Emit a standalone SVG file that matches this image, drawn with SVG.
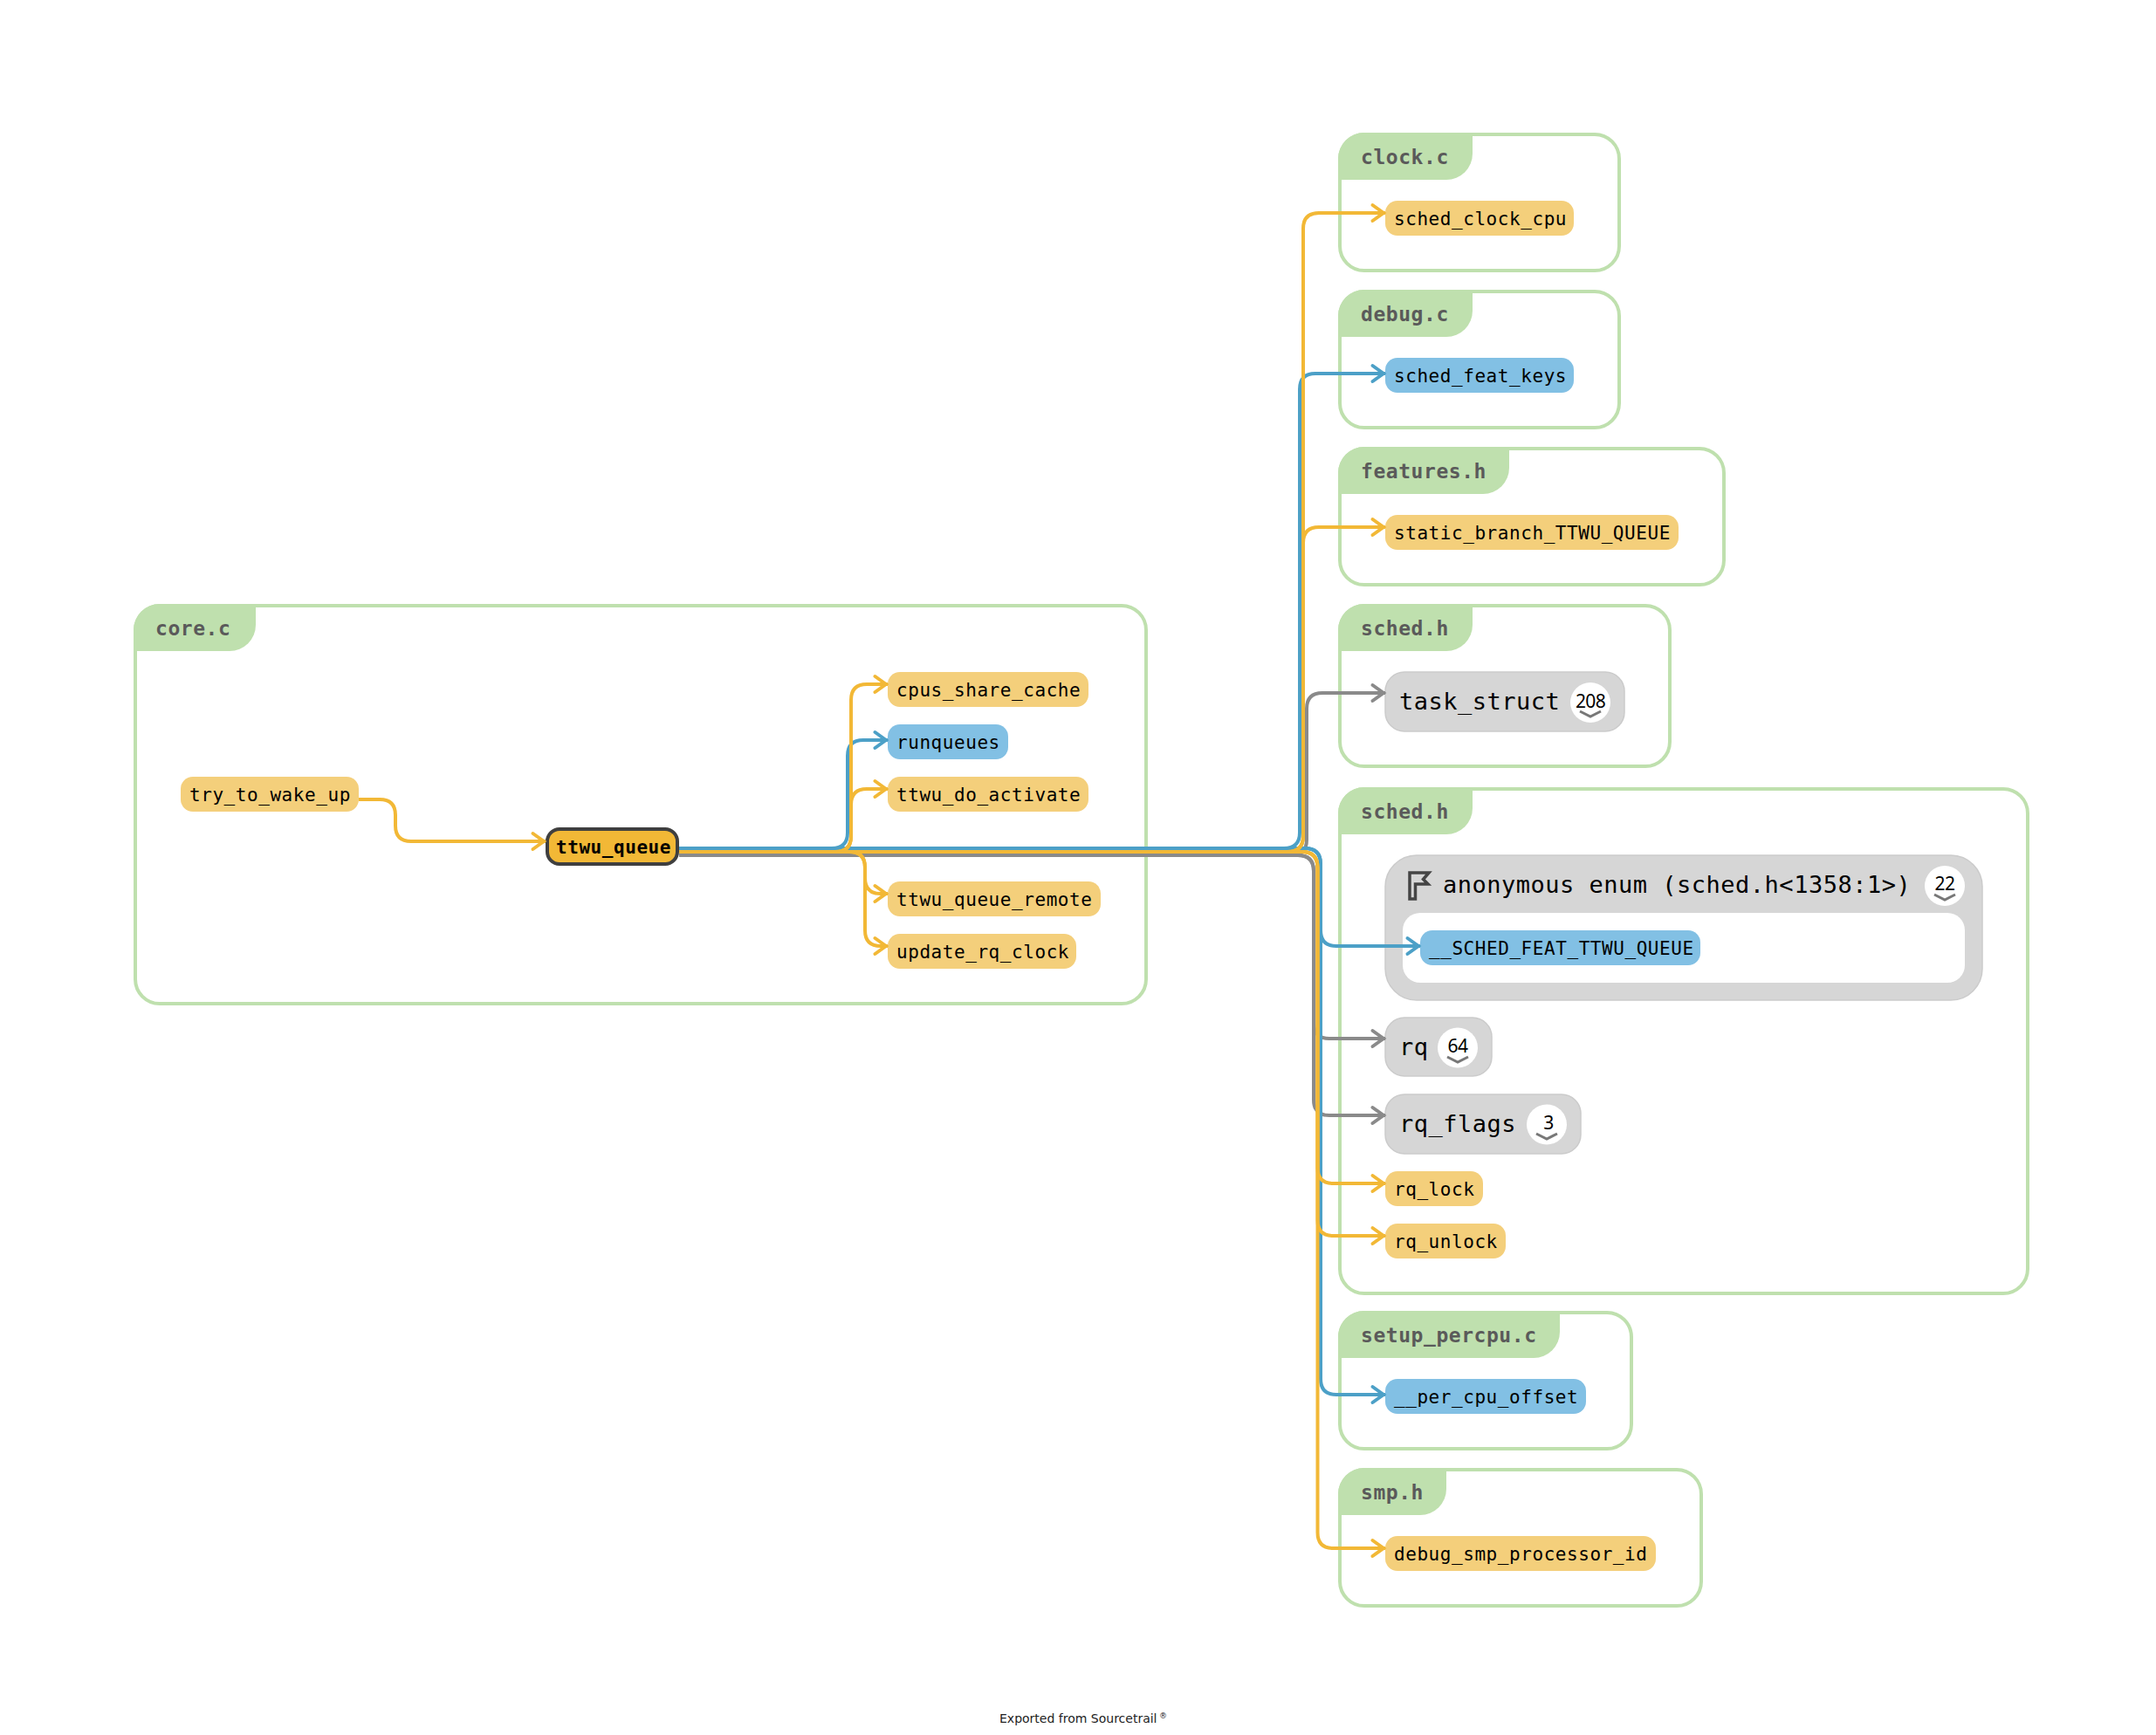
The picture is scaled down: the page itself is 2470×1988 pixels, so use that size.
<svg xmlns="http://www.w3.org/2000/svg" width="2470" height="1988" viewBox="0 0 2470 1988">
<style>
text{font-family:"DejaVu Sans Mono","Liberation Mono",monospace;fill:#000}
.box{fill:#fff;stroke:#bfe0ae;stroke-width:4}
.tab{fill:#bfe0ae}
.title{font-size:23px;font-weight:700;letter-spacing:.55px;fill:#5a5a5a}
.fn{fill:#f4cf7b}
.var{fill:#82c0e4}
.type{fill:#d6d6d6;stroke:#cbcbcb;stroke-width:1.5}
.t{font-size:21px;letter-spacing:.56px}
.big{font-size:27px;letter-spacing:.5px}
.badge{fill:#fff}
.num{font-family:"Noto Sans",sans-serif;font-size:21px;letter-spacing:-.6px;text-anchor:middle}
.chev{fill:none;stroke:#555;stroke-width:3;opacity:.8}
.e{fill:none;stroke-width:4}
.y{stroke:#f2b836}.b{stroke:#4ca0c7}.g{stroke:#8a8a8a}
.foot{font-family:"DejaVu Sans",sans-serif;font-size:14px;fill:#222}
</style>
<defs>
<marker id="ay" markerUnits="userSpaceOnUse" markerWidth="30" markerHeight="30" refX="24" refY="15" orient="auto"><path d="M9.500 6L22 15L9.500 24" fill="none" stroke="#f2b836" stroke-width="4" stroke-linecap="round"/></marker>
<marker id="ab" markerUnits="userSpaceOnUse" markerWidth="30" markerHeight="30" refX="24" refY="15" orient="auto"><path d="M9.500 6L22 15L9.500 24" fill="none" stroke="#4ca0c7" stroke-width="4" stroke-linecap="round"/></marker>
<marker id="ag" markerUnits="userSpaceOnUse" markerWidth="30" markerHeight="30" refX="24" refY="15" orient="auto"><path d="M9.500 6L22 15L9.500 24" fill="none" stroke="#8a8a8a" stroke-width="4" stroke-linecap="round"/></marker>
</defs>
<rect width="2470" height="1988" fill="#fff"/>

<g id="file-core-c">
<rect class="box" x="155" y="694" width="1158" height="456" rx="28"/>
<path class="tab" d="M153 722A30 30 0 0 1 183 692H293V716A30 30 0 0 1 263 746H153Z"/>
<text class="title" x="178" y="728">core.c</text>
</g>
<g id="file-clock-c">
<rect class="box" x="1535" y="154" width="320" height="156" rx="28"/>
<path class="tab" d="M1533 182A30 30 0 0 1 1563 152H1687V176A30 30 0 0 1 1657 206H1533Z"/>
<text class="title" x="1559" y="188">clock.c</text>
</g>
<g id="file-debug-c">
<rect class="box" x="1535" y="334" width="320" height="156" rx="28"/>
<path class="tab" d="M1533 362A30 30 0 0 1 1563 332H1687V356A30 30 0 0 1 1657 386H1533Z"/>
<text class="title" x="1559" y="368">debug.c</text>
</g>
<g id="file-features-h">
<rect class="box" x="1535" y="514" width="440" height="156" rx="28"/>
<path class="tab" d="M1533 542A30 30 0 0 1 1563 512H1729V536A30 30 0 0 1 1699 566H1533Z"/>
<text class="title" x="1559" y="548">features.h</text>
</g>
<g id="file-sched-h-1">
<rect class="box" x="1535" y="694" width="378" height="184" rx="28"/>
<path class="tab" d="M1533 722A30 30 0 0 1 1563 692H1687V716A30 30 0 0 1 1657 746H1533Z"/>
<text class="title" x="1559" y="728">sched.h</text>
</g>
<g id="file-sched-h-2">
<rect class="box" x="1535" y="904" width="788" height="578" rx="28"/>
<path class="tab" d="M1533 932A30 30 0 0 1 1563 902H1687V926A30 30 0 0 1 1657 956H1533Z"/>
<text class="title" x="1559" y="938">sched.h</text>
</g>
<g id="file-setup-percpu-c">
<rect class="box" x="1535" y="1504" width="334" height="156" rx="28"/>
<path class="tab" d="M1533 1532A30 30 0 0 1 1563 1502H1787V1526A30 30 0 0 1 1757 1556H1533Z"/>
<text class="title" x="1559" y="1538">setup_percpu.c</text>
</g>
<g id="file-smp-h">
<rect class="box" x="1535" y="1684" width="414" height="156" rx="28"/>
<path class="tab" d="M1533 1712A30 30 0 0 1 1563 1682H1657V1706A30 30 0 0 1 1627 1736H1533Z"/>
<text class="title" x="1559" y="1718">smp.h</text>
</g>

<g id="node-try_to_wake_up"><rect class="fn" x="207" y="890" width="204" height="40" rx="14"/><text class="t" x="217" y="918">try_to_wake_up</text></g>
<g id="node-ttwu_queue"><rect x="627" y="950" width="149" height="40" rx="14" fill="#f2b836" stroke="#3f3f3f" stroke-width="4"/><text class="t" x="637" y="978" font-weight="700">ttwu_queue</text></g>
<g id="node-cpus_share_cache"><rect class="fn" x="1017" y="770" width="230" height="40" rx="14"/><text class="t" x="1027" y="798">cpus_share_cache</text></g>
<g id="node-runqueues"><rect class="var" x="1017" y="830" width="138" height="40" rx="14"/><text class="t" x="1027" y="858">runqueues</text></g>
<g id="node-ttwu_do_activate"><rect class="fn" x="1017" y="890" width="230" height="40" rx="14"/><text class="t" x="1027" y="918">ttwu_do_activate</text></g>
<g id="node-ttwu_queue_remote"><rect class="fn" x="1017" y="1010" width="244" height="40" rx="14"/><text class="t" x="1027" y="1038">ttwu_queue_remote</text></g>
<g id="node-update_rq_clock"><rect class="fn" x="1017" y="1070" width="216" height="40" rx="14"/><text class="t" x="1027" y="1098">update_rq_clock</text></g>
<g id="node-sched_clock_cpu"><rect class="fn" x="1587" y="230" width="216" height="40" rx="14"/><text class="t" x="1597" y="258">sched_clock_cpu</text></g>
<g id="node-sched_feat_keys"><rect class="var" x="1587" y="410" width="216" height="40" rx="14"/><text class="t" x="1597" y="438">sched_feat_keys</text></g>
<g id="node-static_branch_TTWU_QUEUE"><rect class="fn" x="1587" y="590" width="336" height="40" rx="14"/><text class="t" x="1597" y="618">static_branch_TTWU_QUEUE</text></g>
<g id="node-task_struct"><rect class="type" x="1587" y="770" width="274" height="68" rx="22"/><text class="big" x="1603" y="813">task_struct</text><circle class="badge" cx="1822" cy="805" r="23"/><text class="num" x="1822" y="811">208</text><path class="chev" d="M1810 815L1822 821L1834 815"/></g>
<g id="node-anonymous-enum"><rect class="type" x="1587" y="980" width="684" height="166" rx="36"/><rect x="1607" y="1046" width="644" height="80" rx="20" fill="#fff"/>
<path d="M1615 1030V1000H1637L1630.500 1007.500L1636 1013H1621.500V1030Z" fill="none" stroke="#444" stroke-width="3.500"/>
<text class="big" x="1653" y="1023">anonymous enum (sched.h&lt;1358:1&gt;)</text><circle class="badge" cx="2228" cy="1015" r="23"/><text class="num" x="2228" y="1020">22</text><path class="chev" d="M2216 1025L2228 1031L2240 1025"/></g>
<g id="node-__SCHED_FEAT_TTWU_QUEUE"><rect class="var" x="1627" y="1066" width="321" height="40" rx="14"/><text class="t" x="1637" y="1094">__SCHED_FEAT_TTWU_QUEUE</text></g>
<g id="node-rq"><rect class="type" x="1587" y="1166" width="122" height="67" rx="22"/><text class="big" x="1603" y="1209">rq</text><circle class="badge" cx="1670" cy="1200.500" r="23"/><text class="num" x="1670" y="1206">64</text><path class="chev" d="M1658 1211L1670 1217L1682 1211"/></g>
<g id="node-rq_flags"><rect class="type" x="1587" y="1254" width="224" height="68" rx="22"/><text class="big" x="1603" y="1297">rq_flags</text><circle class="badge" cx="1772" cy="1288.500" r="23"/><text class="num" x="1774" y="1294">3</text><path class="chev" d="M1760 1299L1772 1305L1784 1299"/></g>
<g id="node-rq_lock"><rect class="fn" x="1587" y="1342" width="112" height="40" rx="14"/><text class="t" x="1597" y="1370">rq_lock</text></g>
<g id="node-rq_unlock"><rect class="fn" x="1587" y="1402" width="138" height="40" rx="14"/><text class="t" x="1597" y="1430">rq_unlock</text></g>
<g id="node-__per_cpu_offset"><rect class="var" x="1587" y="1580" width="230" height="40" rx="14"/><text class="t" x="1597" y="1608">__per_cpu_offset</text></g>
<g id="node-debug_smp_processor_id"><rect class="fn" x="1587" y="1760" width="310" height="40" rx="14"/><text class="t" x="1597" y="1788">debug_smp_processor_id</text></g>

<g id="connectors">
<g marker-end="url(#ag)">
<path class="e g" d="M778 980H1479Q1497 980 1497 962V812Q1497 794 1515 794H1587"/>
<path class="e g" d="M778 980H1487Q1505 980 1505 998V1172Q1505 1190 1523 1190H1587"/>
<path class="e g" d="M778 980H1487Q1505 980 1505 998V1260Q1505 1278 1523 1278H1587"/>
</g>
<g marker-end="url(#ab)">
<path class="e b" d="M778 972H953Q971 972 971 954V866Q971 848 989 848H1017"/>
<path class="e b" d="M778 972H1471Q1489 972 1489 954V446Q1489 428 1507 428H1587"/>
<path class="e b" d="M778 972H1495Q1513 972 1513 990V1066Q1513 1084 1531 1084H1627"/>
<path class="e b" d="M778 972H1495Q1513 972 1513 990V1580Q1513 1598 1531 1598H1587"/>
</g>
<g marker-end="url(#ay)">
<path class="e y" d="M411 916H435Q453 916 453 934V946Q453 964 471 964H625"/>
<path class="e y" d="M778 976H957Q975 976 975 958V802Q975 784 993 784H1017"/>
<path class="e y" d="M778 976H957Q975 976 975 958V922Q975 904 993 904H1017"/>
<path class="e y" d="M778 976H973Q991 976 991 994V1006Q991 1024 1009 1024H1017"/>
<path class="e y" d="M778 976H973Q991 976 991 994V1066Q991 1084 1009 1084H1017"/>
<path class="e y" d="M778 976H1475Q1493 976 1493 958V262Q1493 244 1511 244H1587"/>
<path class="e y" d="M778 976H1475Q1493 976 1493 958V622Q1493 604 1511 604H1587"/>
<path class="e y" d="M778 976H1491.500Q1509.500 976 1509.500 994V1338Q1509.500 1356 1527.500 1356H1587"/>
<path class="e y" d="M778 976H1491.500Q1509.500 976 1509.500 994V1398Q1509.500 1416 1527.500 1416H1587"/>
<path class="e y" d="M778 976H1491.500Q1509.500 976 1509.500 994V1756Q1509.500 1774 1527.500 1774H1587"/>
</g>
</g>

<text class="foot" x="1145" y="1974">Exported from Sourcetrail<tspan x="1328" y="1969" font-size="9">®</tspan></text>
</svg>
